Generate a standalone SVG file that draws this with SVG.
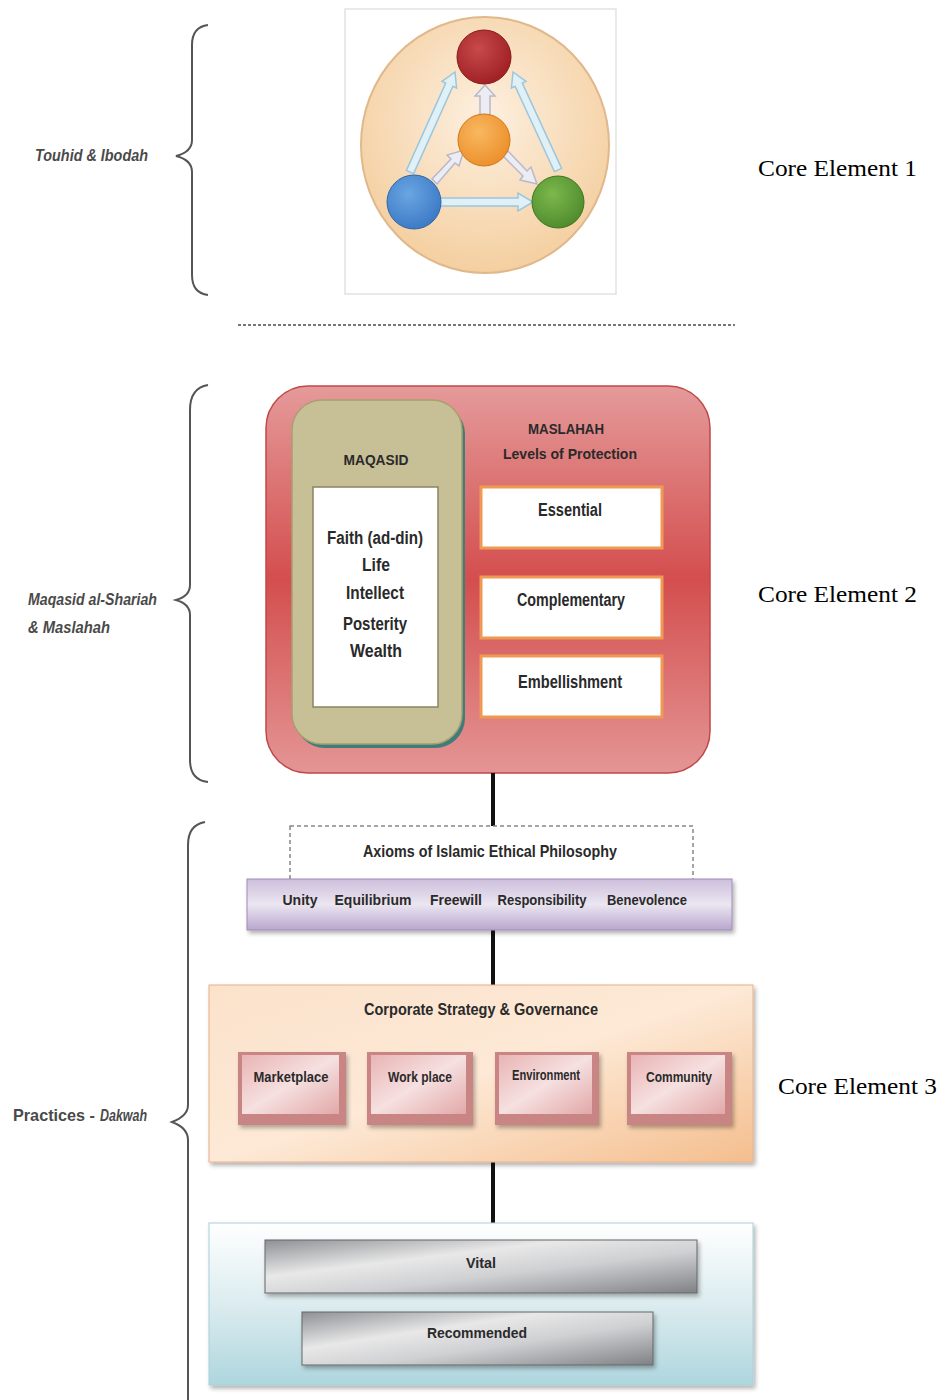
<svg xmlns="http://www.w3.org/2000/svg" width="943" height="1400" viewBox="0 0 943 1400">
<style>
.t{font-family:"Liberation Sans",sans-serif;fill:#2a2a2a;text-anchor:middle;font-weight:bold}
.lbl{font-family:"Liberation Sans",sans-serif;fill:#4a4a4a;font-weight:bold;font-size:16.5px}
.ce{font-family:"Liberation Serif",serif;font-size:23.5px;fill:#000}
.brace{fill:none;stroke:#555;stroke-width:2}
.conn{stroke:#111;stroke-width:4}
.ar{fill:#dff0f7;stroke:#9cc6dc;stroke-width:1.5}
.ar2{fill:#ececf2;stroke:#b8b8cc;stroke-width:1.5}
.btnO{fill:#c98484}
.btnI{fill:url(#gBtn)}
</style>
<defs>
<radialGradient id="gCircle" cx="50%" cy="40%" r="60%">
<stop offset="0" stop-color="#fdf0e0"/><stop offset="1" stop-color="#f4cfa0"/>
</radialGradient>
<linearGradient id="gRed" x1="0" y1="0" x2="0" y2="1">
<stop offset="0" stop-color="#e59a9a"/><stop offset="0.5" stop-color="#d44e4e"/><stop offset="1" stop-color="#e49595"/>
</linearGradient>
<linearGradient id="gPurple" x1="0" y1="0" x2="0" y2="1">
<stop offset="0" stop-color="#cdbfdc"/><stop offset="0.5" stop-color="#ebe6f1"/><stop offset="1" stop-color="#b9a6cd"/>
</linearGradient>
<linearGradient id="gOrange" x1="0" y1="0" x2="1" y2="1">
<stop offset="0" stop-color="#fbe2cb"/><stop offset="0.5" stop-color="#fde9d6"/><stop offset="1" stop-color="#f4be8e"/>
</linearGradient>
<linearGradient id="gBtn" x1="0" y1="0" x2="1" y2="1">
<stop offset="0" stop-color="#e9b4b4"/><stop offset="0.5" stop-color="#f6e0e0"/><stop offset="1" stop-color="#e2a8a8"/>
</linearGradient>
<linearGradient id="gBlue" x1="0" y1="0" x2="0" y2="1">
<stop offset="0" stop-color="#ffffff"/><stop offset="0.5" stop-color="#dcecef"/><stop offset="1" stop-color="#aed6de"/>
</linearGradient>
<linearGradient id="gSilver" x1="0" y1="0" x2="1" y2="1">
<stop offset="0" stop-color="#8e9094"/><stop offset="0.35" stop-color="#e8e8e8"/><stop offset="0.6" stop-color="#cfd0d2"/><stop offset="1" stop-color="#7f8185"/>
</linearGradient>
<radialGradient id="gR" cx="40%" cy="35%" r="70%"><stop offset="0" stop-color="#c84a4a"/><stop offset="1" stop-color="#9e1e22"/></radialGradient>
<radialGradient id="gO" cx="40%" cy="35%" r="70%"><stop offset="0" stop-color="#f8b860"/><stop offset="1" stop-color="#ec8e2a"/></radialGradient>
<radialGradient id="gB" cx="40%" cy="35%" r="70%"><stop offset="0" stop-color="#6aa6e2"/><stop offset="1" stop-color="#3a78c4"/></radialGradient>
<radialGradient id="gG" cx="40%" cy="35%" r="70%"><stop offset="0" stop-color="#7cb84c"/><stop offset="1" stop-color="#4e8a2c"/></radialGradient>
<filter id="sh" x="-5%" y="-5%" width="115%" height="120%"><feDropShadow dx="2" dy="3" stdDeviation="2" flood-color="#000" flood-opacity="0.3"/></filter>
</defs>

<g id="braces">
<path class="brace" d="M208,25 Q192,27 192,45 L192,140 Q192,152 176,156 Q192,160 192,172 L192,275 Q192,293 208,295"/>
<path class="brace" d="M208,385 Q190,388 190,410 L190,585 Q190,596 176,600 Q190,604 190,615 L190,760 Q190,780 208,782"/>
<path class="brace" d="M205,822 Q188,825 188,845 L188,1105 Q188,1116 172,1122 Q188,1128 188,1140 L188,1400"/>
</g>

<g id="labels-left">
<text class="lbl" x="35" y="161" font-style="italic" textLength="113" lengthAdjust="spacingAndGlyphs">Touhid &amp; Ibodah</text>
<text class="lbl" x="28" y="605" font-style="italic" textLength="129" lengthAdjust="spacingAndGlyphs">Maqasid al-Shariah</text>
<text class="lbl" x="28" y="633" font-style="italic" textLength="82" lengthAdjust="spacingAndGlyphs">&amp; Maslahah</text>
<text class="lbl" x="13" y="1121" textLength="82" lengthAdjust="spacingAndGlyphs">Practices -</text>
<text class="lbl" x="100" y="1121" font-style="italic" textLength="47" lengthAdjust="spacingAndGlyphs">Dakwah</text>
</g>

<g id="labels-right">
<text class="ce" x="758" y="176" textLength="159" lengthAdjust="spacingAndGlyphs">Core Element 1</text>
<text class="ce" x="758" y="602" textLength="159" lengthAdjust="spacingAndGlyphs">Core Element 2</text>
<text class="ce" x="778" y="1094" textLength="159" lengthAdjust="spacingAndGlyphs">Core Element 3</text>
</g>

<g id="core1">
<rect x="345" y="9" width="271" height="285" fill="#fff" stroke="#e2e2e2" stroke-width="1.5"/>
<ellipse cx="485" cy="145" rx="124" ry="128" fill="url(#gCircle)" stroke="#e0b88c" stroke-width="2"/>
<g id="arrows-core1">
<polygon class="ar" points="413.6,173.6 452.9,86.3 456.6,88 455,72 442,81.4 445.7,83.1 406.4,170.4"/>
<polygon class="ar" points="561.6,168.4 522.3,83.1 526,81.4 513,72 511.4,88 515.1,86.3 554.4,171.6"/>
<polygon class="ar" points="440,198 518,198 518,193 533,202 518,211 518,206 440,206"/>
<polygon class="ar2" points="480,115 480,96 475,96 485,85 495,96 490,96 490,115"/>
<polygon class="ar2" points="432,179 451,159 447,155 464,150 459,166 455,163 437,184"/>
<polygon class="ar2" points="508,151 527,171 531,167 537,184 520,180 523,176 503,156"/>
</g>
<circle id="c-red" cx="484" cy="57" r="27" fill="url(#gR)" stroke="#8a1a1a" stroke-width="1"/>
<circle id="c-orange" cx="484" cy="140" r="26" fill="url(#gO)" stroke="#d07818" stroke-width="1"/>
<circle id="c-blue" cx="414" cy="202" r="27" fill="url(#gB)" stroke="#2e66aa" stroke-width="1"/>
<circle id="c-green" cx="558" cy="202" r="26" fill="url(#gG)" stroke="#3e7420" stroke-width="1"/>
</g>

<line id="divider" x1="238" y1="325" x2="735" y2="325" stroke="#777" stroke-width="2" stroke-dasharray="3,2"/>

<g id="core2">
<rect x="266" y="386" width="444" height="387" rx="42" fill="url(#gRed)" stroke="#c04848" stroke-width="1.5"/>
<g id="maqasid">
<rect x="295" y="404" width="170" height="344" rx="30" fill="#3f7c7a"/>
<rect x="292" y="400" width="170" height="344" rx="30" fill="#c7bf96" stroke="#a9a070" stroke-width="1.5"/>
<text class="t" x="376" y="465" font-size="14" textLength="65" lengthAdjust="spacingAndGlyphs">MAQASID</text>
<rect x="313" y="487" width="125" height="220" fill="#fff" stroke="#8a8460" stroke-width="1.5"/>
<text class="t" x="375" y="544" font-size="18" textLength="96" lengthAdjust="spacingAndGlyphs">Faith (ad-din)</text>
<text class="t" x="376" y="571" font-size="18" textLength="28" lengthAdjust="spacingAndGlyphs">Life</text>
<text class="t" x="375" y="599" font-size="18" textLength="58" lengthAdjust="spacingAndGlyphs">Intellect</text>
<text class="t" x="375" y="630" font-size="18" textLength="64" lengthAdjust="spacingAndGlyphs">Posterity</text>
<text class="t" x="376" y="657" font-size="18" textLength="52" lengthAdjust="spacingAndGlyphs">Wealth</text>
</g>
<g id="maslahah">
<text class="t" x="566" y="434" font-size="14" textLength="76" lengthAdjust="spacingAndGlyphs">MASLAHAH</text>
<text class="t" x="570" y="459" font-size="15" textLength="134" lengthAdjust="spacingAndGlyphs">Levels of Protection</text>
<rect x="481" y="487" width="181" height="61" fill="#fff" stroke="#ef9a52" stroke-width="3"/>
<text class="t" x="570" y="516" font-size="18" textLength="64" lengthAdjust="spacingAndGlyphs">Essential</text>
<rect x="481" y="577" width="181" height="61" fill="#fff" stroke="#ef9a52" stroke-width="3"/>
<text class="t" x="571" y="606" font-size="18" textLength="108" lengthAdjust="spacingAndGlyphs">Complementary</text>
<rect x="481" y="656" width="181" height="61" fill="#fff" stroke="#ef9a52" stroke-width="3"/>
<text class="t" x="570" y="688" font-size="18" textLength="104" lengthAdjust="spacingAndGlyphs">Embellishment</text>
</g>
</g>

<g id="connectors">
<line class="conn" x1="493" y1="773" x2="493" y2="826"/>
<line class="conn" x1="493" y1="930" x2="493" y2="985"/>
<line class="conn" x1="493" y1="1162" x2="493" y2="1223"/>
</g>

<g id="axioms">
<rect x="290" y="826" width="403" height="54" fill="#fff" stroke="#888" stroke-width="1.5" stroke-dasharray="4,3"/>
<text class="t" x="490" y="857" font-size="17" textLength="254" lengthAdjust="spacingAndGlyphs">Axioms of Islamic Ethical Philosophy</text>
<rect x="247" y="879" width="485" height="51" fill="url(#gPurple)" stroke="#9f8cb6" stroke-width="1" filter="url(#sh)"/>
<text class="t" x="300" y="905" font-size="15" textLength="35" lengthAdjust="spacingAndGlyphs">Unity</text>
<text class="t" x="373" y="905" font-size="15" textLength="77" lengthAdjust="spacingAndGlyphs">Equilibrium</text>
<text class="t" x="456" y="905" font-size="15" textLength="52" lengthAdjust="spacingAndGlyphs">Freewill</text>
<text class="t" x="542" y="905" font-size="15" textLength="89" lengthAdjust="spacingAndGlyphs">Responsibility</text>
<text class="t" x="647" y="905" font-size="15" textLength="80" lengthAdjust="spacingAndGlyphs">Benevolence</text>
</g>

<g id="corporate">
<rect x="209" y="985" width="544" height="177" fill="url(#gOrange)" stroke="#eab088" stroke-width="1" filter="url(#sh)"/>
<text class="t" x="481" y="1015" font-size="17" textLength="234" lengthAdjust="spacingAndGlyphs">Corporate Strategy &amp; Governance</text>
<g id="marketplace"><rect class="btnO" x="238" y="1052" width="108" height="73" filter="url(#sh)"/><rect class="btnI" x="242" y="1055" width="97" height="59"/><text class="t" x="291" y="1082" font-size="14" textLength="75" lengthAdjust="spacingAndGlyphs">Marketplace</text></g>
<g id="workplace"><rect class="btnO" x="367" y="1052" width="106" height="73" filter="url(#sh)"/><rect class="btnI" x="371" y="1055" width="95" height="59"/><text class="t" x="420" y="1082" font-size="14" textLength="64" lengthAdjust="spacingAndGlyphs">Work place</text></g>
<g id="environment"><rect class="btnO" x="495" y="1052" width="104" height="73" filter="url(#sh)"/><rect class="btnI" x="499" y="1055" width="93" height="59"/><text class="t" x="546" y="1080" font-size="14" textLength="68" lengthAdjust="spacingAndGlyphs">Environment</text></g>
<g id="community"><rect class="btnO" x="627" y="1052" width="105" height="73" filter="url(#sh)"/><rect class="btnI" x="631" y="1055" width="94" height="59"/><text class="t" x="679" y="1082" font-size="14" textLength="66" lengthAdjust="spacingAndGlyphs">Community</text></g>
</g>

<g id="practices">
<rect x="209" y="1223" width="544" height="162" fill="url(#gBlue)" stroke="#a8d0da" stroke-width="1" filter="url(#sh)"/>
<g id="vital"><rect x="265" y="1240" width="432" height="53" fill="url(#gSilver)" stroke="#666" stroke-width="1" filter="url(#sh)"/><text class="t" x="481" y="1268" font-size="14" textLength="30" lengthAdjust="spacingAndGlyphs">Vital</text></g>
<g id="recommended"><rect x="302" y="1312" width="351" height="53" fill="url(#gSilver)" stroke="#666" stroke-width="1" filter="url(#sh)"/><text class="t" x="477" y="1338" font-size="14" textLength="100" lengthAdjust="spacingAndGlyphs">Recommended</text></g>
</g>
</svg>
